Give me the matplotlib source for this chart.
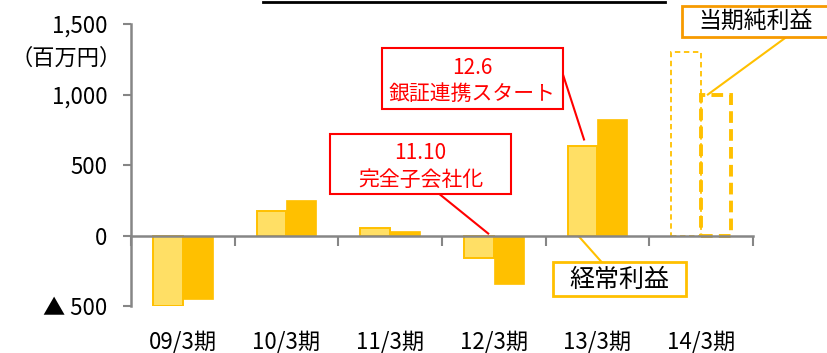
import matplotlib
matplotlib.use("Agg")
import matplotlib.pyplot as plt
import numpy as np
from matplotlib.lines import Line2D
from matplotlib.patches import Rectangle
from matplotlib.transforms import blended_transform_factory

plt.rcParams['font.family'] = ['Noto Sans CJK JP', 'DejaVu Sans']

# data (百万円)
periods = ['09/3期', '10/3期', '11/3期', '12/3期', '13/3期', '14/3期']
keijo = [-500, 172, 52, -161, 638, 1300]      # 経常利益
junri = [-447, 250, 30, -343, 828, 1000]      # 当期純利益
forecast = [False, False, False, False, False, True]
yticks = [-500, 0, 500, 1000, 1500]
ylabels = ['▲ 500', '0', '500', '1,000', '1,500']

light = '#FFDF65'
gold = '#FFC000'
axis_grey = '#868686'
red = '#FF0000'

fig = plt.figure(figsize=(8.27, 3.53), dpi=100)
ax = fig.add_axes([0.1584, 0.1331, 0.7521, 0.7989])

x = np.arange(len(periods))
w = 0.289
for i in range(len(periods)):
    if forecast[i]:
        ax.bar(x[i] - w / 2, keijo[i], w, facecolor='none', edgecolor=gold,
               linewidth=1.3, linestyle=(0, (3, 2)))
        ax.bar(x[i] + w / 2, junri[i], w, facecolor='none', edgecolor=gold,
               linewidth=2.8, linestyle=(0, (3, 1.6)))
    else:
        ax.bar(x[i] - w / 2, keijo[i], w, color=light, edgecolor=gold, linewidth=1.4)
        ax.bar(x[i] + w / 2, junri[i], w, color=gold, edgecolor=gold, linewidth=0.5)

ax.set_xlim(-0.5, len(periods) - 0.5)
ax.set_ylim(-500, 1500)

for s in ['top', 'right']:
    ax.spines[s].set_visible(False)
ax.spines['bottom'].set_position(('data', 0))
ax.spines['left'].set_color(axis_grey)
ax.spines['bottom'].set_color(axis_grey)
ax.spines['left'].set_linewidth(1.8)
ax.spines['bottom'].set_linewidth(1.8)

ax.set_xticks(np.arange(len(periods) + 1) - 0.5)
ax.set_xticklabels([])
ax.tick_params(axis='x', direction='out', length=7, width=1.5, color=axis_grey)
ax.set_yticks(yticks)
ax.set_yticklabels(ylabels)
ax.tick_params(axis='y', direction='out', length=6, width=1.5, color=axis_grey,
               labelsize=16, pad=11)

trans = blended_transform_factory(ax.transData, ax.transAxes)
for i, p in enumerate(periods):
    ax.text(i, -0.128, p, transform=trans, ha='center', va='center', fontsize=16)

fig.text(0.0805, 0.835, '（百万円）', ha='center', va='center', fontsize=16)


def callout_box(x0, x1, y0, y1, color, lw):
    ax.add_patch(Rectangle((x0, y0), x1 - x0, y1 - y0, facecolor='white',
                           edgecolor=color, linewidth=lw, clip_on=False, zorder=3))


# event callouts
callout_box(1.921, 3.667, 900, 1332, red, 1.5)
ax.text(2.794, 1098, '12.6\n銀証連携スタート', ha='center', va='center', color=red,
        fontsize=15, linespacing=1.25, zorder=4)
ax.add_line(Line2D([3.667, 3.87], [1142, 681], color=red, linewidth=1.5, clip_on=False))

callout_box(1.420, 3.166, 291, 723, red, 1.5)
ax.text(2.293, 490, '11.10\n完全子会社化', ha='center', va='center', color=red,
        fontsize=15, linespacing=1.25, zorder=4)
ax.add_line(Line2D([2.48, 2.946], [291, 14], color=red, linewidth=1.5, clip_on=False))

# series labels
callout_box(4.815, 6.4, 1410, 1630, '#F79A00', 2)
ax.text(5.524, 1516, '当期純利益', ha='center', va='center', fontsize=16.5,
        clip_on=False, zorder=4)
ax.add_line(Line2D([5.827, 5.065], [1410, 1000], color=gold, linewidth=1.5, clip_on=False))

callout_box(3.571, 4.854, -432, -191, gold, 2)
ax.text(4.212, -312, '経常利益', ha='center', va='center', fontsize=18,
        clip_on=False, zorder=4)
ax.add_line(Line2D([3.821, 4.043], [-7, -191], color=gold, linewidth=1.5, clip_on=False))

fig.add_artist(Line2D([263 / 827, 665 / 827], [1 - 1.5 / 353] * 2, color='black', linewidth=2))

fig.savefig('out.png', dpi=100)
